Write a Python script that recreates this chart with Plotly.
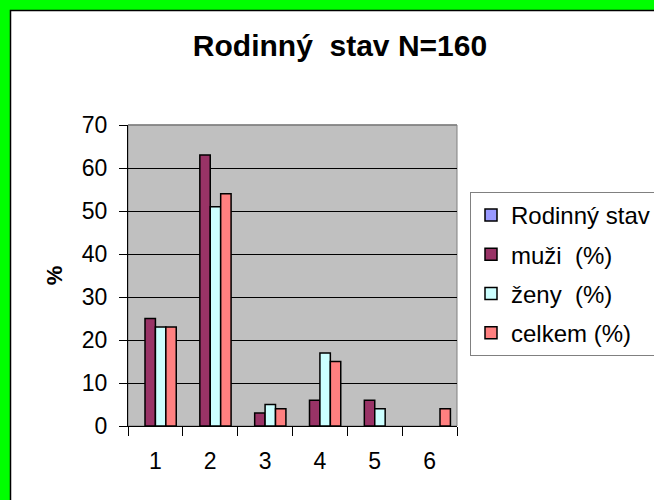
import plotly.graph_objects as go

categories = ["1", "2", "3", "4", "5", "6"]
rodinny_stav = [None, None, None, None, None, None]
muzi = [25, 63, 3, 6, 6, None]
zeny = [23, 51, 5, 17, 4, None]
celkem = [23, 54, 4, 15, None, 4]
y_ticks = [0, 10, 20, 30, 40, 50, 60, 70]

W, H = 654, 500
L, R, T, B = 128, 457, 125, 426  # plot area in pixels

def px_x(p):
    return (p - L) / (R - L)

def px_y(p):
    return (B - p) / (B - T)

font = "Liberation Sans, Arial, sans-serif"

series = [
    ("Rodinný stav", rodinny_stav, "#9999FF", -0.38),
    ("muži  (%)", muzi, "#993366", -0.19),
    ("ženy  (%)", zeny, "#CCFFFF", 0.0),
    ("celkem (%)", celkem, "#FF8080", 0.19),
]

fig = go.Figure()
for i, (name, vals, color, off) in enumerate(series):
    fig.add_trace(go.Bar(
        x=categories, y=vals, name=name,
        marker=dict(color=color, line=dict(color="black", width=1.5)),
        width=0.19, offset=off, legendgroup=f"g{i}",
    ))

fig.update_layout(
    width=W, height=H,
    margin=dict(l=L, r=W - R, t=T, b=H - B, autoexpand=False),
    paper_bgcolor="#00FF00",
    plot_bgcolor="rgba(0,0,0,0)",
    barmode="overlay",
    showlegend=True,
    font=dict(family=font, size=22, color="black"),
    title=dict(text="<b>Rodinný  stav N=160</b>", x=340 / W, xanchor="center",
               y=1 - 45 / H, yanchor="middle",
               font=dict(family=font, size=30, color="black")),
    legend=dict(x=px_x(470), y=px_y(192), xanchor="left", yanchor="top",
                bordercolor="#808080", borderwidth=1, bgcolor="white",
                font=dict(family=font, size=24, color="black"),
                tracegroupgap=5, traceorder="grouped"),
    shapes=[
        dict(type="rect", xref="paper", yref="paper", layer="below",
             x0=px_x(10.5), x1=px_x(700), y0=px_y(560), y1=px_y(10.5),
             fillcolor="white", line=dict(color="black", width=1.5)),
        dict(type="rect", xref="x domain", yref="y domain", layer="below",
             x0=0, x1=1, y0=0, y1=1,
             fillcolor="#C0C0C0", line=dict(color="#808080", width=1)),
        dict(type="line", xref="x domain", yref="y domain", layer="above",
             x0=0, x1=1, y0=1, y1=1, line=dict(color="#808080", width=1.5)),
    ],
)

fig.update_xaxes(
    type="category", range=[-0.5, 5.5], tickson="boundaries",
    ticks="outside", ticklen=9, tickcolor="black", tickwidth=1,
    showline=True, linecolor="black", linewidth=1, showgrid=False,
    ticklabelstandoff=14, tickfont=dict(size=23, color="black"),
)
fig.update_yaxes(
    range=[0, 70], tickvals=y_ticks, ticks="outside", ticklen=8,
    tickcolor="black", tickwidth=1, showline=True, linecolor="black",
    linewidth=1, showgrid=True, gridcolor="black", gridwidth=1,
    zeroline=False, ticklabelstandoff=7, tickfont=dict(size=23, color="black"),
    title=dict(text="<b>%</b>", standoff=13, font=dict(size=22, color="black")),
)

fig.write_html("out.html", config={"displayModeBar": False},
               post_script="document.body.style.margin='0';")
